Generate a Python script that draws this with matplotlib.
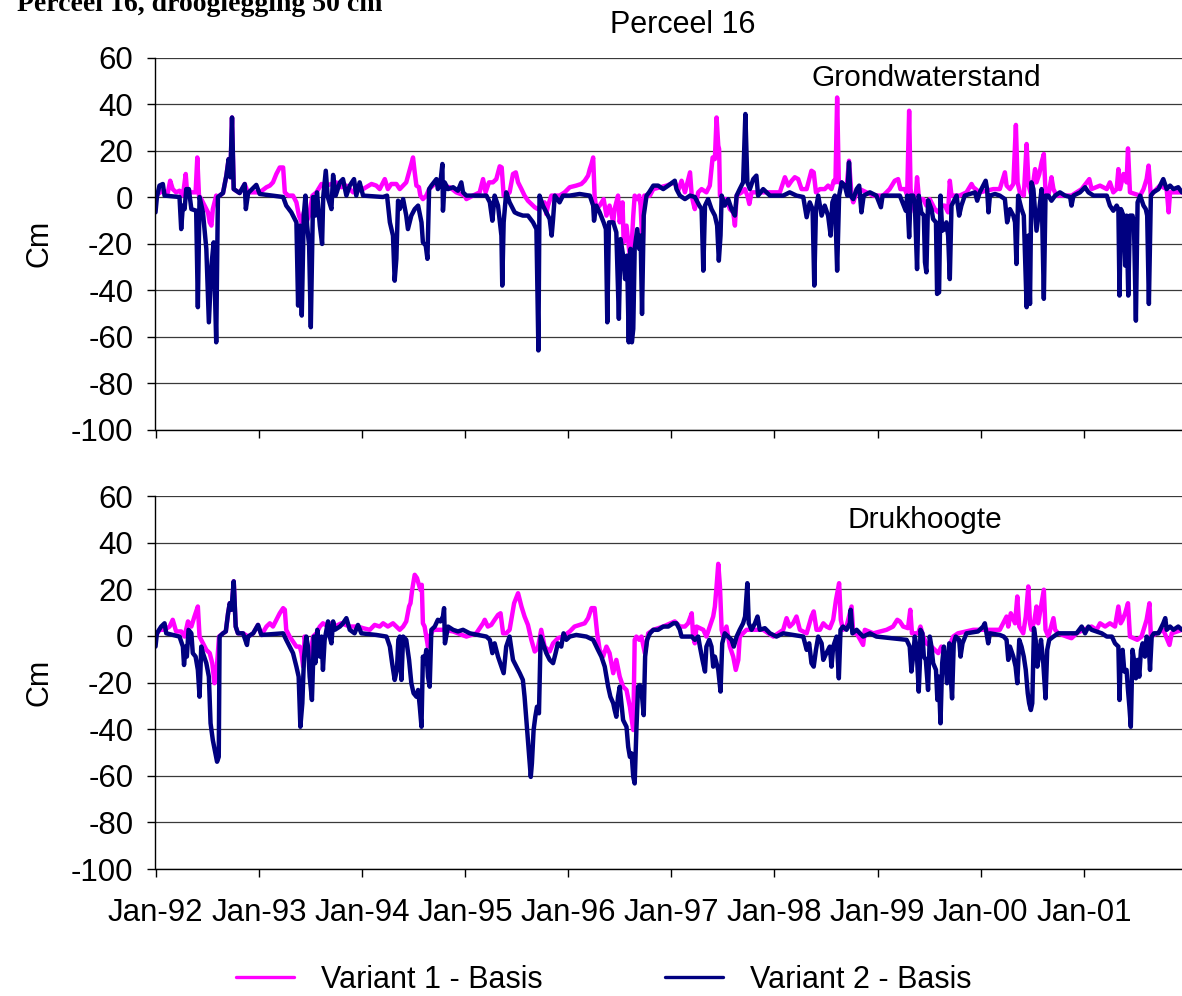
import numpy as np
import matplotlib
matplotlib.use("Agg")
import matplotlib.pyplot as plt
import matplotlib.dates as mdates

plt.rcParams['font.family'] = ['Liberation Sans', 'DejaVu Sans']
plt.rcParams['axes.unicode_minus'] = False

# ---- Grondwaterstand (groundwater level differences, cm); time in decimal years
gw_v1_t = [1992.000, 1992.071, 1992.120, 1992.142, 1992.168, 1992.200, 1992.233, 1992.265, 1992.291, 1992.304,
           1992.346, 1992.388, 1992.404, 1992.420, 1992.443, 1992.475, 1992.508, 1992.524, 1992.540, 1992.556,
           1992.588, 1992.605, 1992.653, 1992.685, 1992.708, 1992.724, 1992.740, 1992.757, 1992.815, 1992.863,
           1992.896, 1992.912, 1993.009, 1993.073, 1993.106, 1993.138, 1993.170, 1993.203, 1993.235, 1993.251,
           1993.284, 1993.332, 1993.364, 1993.390, 1993.413, 1993.436, 1993.461, 1993.487, 1993.520, 1993.558,
           1993.607, 1993.655, 1993.704, 1993.752, 1993.801, 1993.849, 1993.914, 1994.011, 1994.092, 1994.140,
           1994.173, 1994.221, 1994.253, 1994.286, 1994.334, 1994.367, 1994.399, 1994.431, 1994.457, 1994.480,
           1994.496, 1994.512, 1994.528, 1994.554, 1994.567, 1994.593, 1994.625, 1994.651, 1994.722, 1994.771,
           1994.852, 1994.916, 1994.997, 1995.013, 1995.078, 1995.143, 1995.175, 1995.201, 1995.233, 1995.272,
           1995.304, 1995.337, 1995.356, 1995.375, 1995.401, 1995.434, 1995.466, 1995.492, 1995.514, 1995.547,
           1995.579, 1995.611, 1995.644, 1995.676, 1995.708, 1995.741, 1995.773, 1995.789, 1995.805, 1995.838,
           1995.919, 1995.967, 1996.016, 1996.080, 1996.129, 1996.161, 1996.193, 1996.210, 1996.226, 1996.242,
           1996.258, 1996.274, 1996.307, 1996.345, 1996.371, 1996.403, 1996.436, 1996.452, 1996.484, 1996.500,
           1996.526, 1996.539, 1996.565, 1996.591, 1996.607, 1996.630, 1996.646, 1996.669, 1996.688, 1996.701,
           1996.720, 1996.737, 1996.791, 1996.824, 1996.953, 1997.034, 1997.066, 1997.099, 1997.131, 1997.180,
           1997.196, 1997.212, 1997.228, 1997.260, 1997.293, 1997.341, 1997.373, 1997.399, 1997.422, 1997.438,
           1997.454, 1997.464, 1997.470, 1997.503, 1997.535, 1997.567, 1997.600, 1997.616, 1997.632, 1997.681,
           1997.713, 1997.736, 1997.755, 1997.778, 1997.858, 1997.955, 1998.052, 1998.101, 1998.133, 1998.166,
           1998.198, 1998.230, 1998.263, 1998.311, 1998.360, 1998.382, 1998.402, 1998.440, 1998.489, 1998.521,
           1998.554, 1998.576, 1998.592, 1998.609, 1998.625, 1998.651, 1998.699, 1998.722, 1998.748, 1998.764,
           1998.796, 1998.828, 1998.958, 1999.055, 1999.119, 1999.168, 1999.200, 1999.223, 1999.265, 1999.288,
           1999.307, 1999.320, 1999.362, 1999.384, 1999.404, 1999.443, 1999.475, 1999.507, 1999.556, 1999.588,
           1999.620, 1999.653, 1999.685, 1999.701, 1999.717, 1999.798, 1999.863, 1999.911, 1999.928, 1999.992,
           2000.122, 2000.186, 2000.235, 2000.251, 2000.283, 2000.316, 2000.341, 2000.358, 2000.380, 2000.419,
           2000.445, 2000.464, 2000.493, 2000.526, 2000.542, 2000.568, 2000.590, 2000.613, 2000.629, 2000.655,
           2000.687, 2000.704, 2000.736, 2000.881, 2000.978, 2001.053, 2001.075, 2001.156, 2001.221, 2001.253,
           2001.286, 2001.318, 2001.334, 2001.350, 2001.383, 2001.415, 2001.428, 2001.447, 2001.544, 2001.577,
           2001.609, 2001.628, 2001.648, 2001.673, 2001.738, 2001.803, 2001.822, 2001.835, 2001.952]
gw_v1 = [0.6, 2.7, 2.0, 7.0, 3.4, 2.0, 2.7, 0.6, 9.9, 3.4,
         2.0, 2.0, 17.0, 0.6, -0.9, -3.7, -6.6, -10.9, -12.3, -5.2,
         0.6, 0.0, 1.7, 9.2, 16.3, 8.5, 34.2, 3.4, 1.7, 5.6,
         1.7, 2.0, 2.0, 4.2, 4.9, 6.3, 9.9, 12.7, 12.7, 2.0,
         0.6, 0.6, -2.3, -8.0, -10.9, -6.6, -10.9, -8.0, 0.6, 2.0,
         5.6, 4.9, 5.6, 6.3, 4.2, 4.9, 2.0, 3.4, 5.6, 4.9,
         3.4, 7.7, 3.4, 5.6, 5.6, 3.4, 4.9, 6.3, 10.6, 14.2,
         17.0, 10.6, 4.9, 4.2, 0.6, -0.9, 0.6, 3.4, 6.3, 4.9,
         4.2, 2.0, 0.6, -0.9, 0.6, 2.0, 7.7, 2.0, 6.3, 6.3,
         7.7, 13.2, 12.7, 0.6, 0.6, 2.0, 9.9, 10.6, 6.3, 3.4,
         0.6, -1.6, -3.0, -4.4, -5.2, -3.7, -2.3, -7.3, -3.7, 0.6,
         0.6, 2.0, 4.2, 4.9, 5.6, 7.0, 9.2, 12.0, 14.2, 17.0,
         0.6, -5.2, -3.7, -0.9, -8.0, -3.7, -10.9, -5.2, 0.6, -10.9,
         -2.3, -19.5, -12.3, -22.3, -28.0, -8.0, 0.6, -0.9, 0.6, -3.7,
         -22.3, 0.6, 0.6, 3.4, 4.9, 6.3, 2.7, 7.0, 2.0, 10.6,
         0.6, -2.3, -5.2, 2.0, 3.4, 2.0, 4.9, 17.0, 16.3, 34.2,
         22.1, 20.6, 0.6, -0.9, -0.9, -5.2, -6.6, -12.3, 0.6, 2.0,
         3.4, 0.6, -3.0, 2.0, 2.0, 2.0, 2.0, 8.5, 4.9, 7.0,
         8.5, 7.7, 3.4, 3.4, 11.3, 10.6, 2.0, 3.4, 3.4, 4.9,
         3.4, 7.0, 6.3, 42.8, 6.3, 6.3, 3.4, 15.6, 0.6, -2.3,
         2.0, 3.4, 0.6, 0.6, 3.4, 7.0, 7.7, 3.4, 3.4, 0.6,
         37.1, 3.4, -6.6, 8.5, -0.9, -0.9, -3.7, -0.9, -5.2, -6.6,
         -3.7, -3.7, -6.6, 7.0, 0.6, 0.6, 2.0, 5.6, 4.2, 2.0,
         3.4, 3.4, 10.6, 4.9, 3.4, 5.6, 31.0, 6.3, 2.0, 0.6,
         22.8, 4.9, 0.6, 12.0, 6.3, 9.9, 14.9, 18.5, 2.0, 0.6,
         8.5, 3.4, 0.6, 0.6, 3.4, 7.7, 3.4, 4.9, 3.4, 6.3,
         2.0, 3.4, 12.0, 3.4, 9.9, 6.3, 20.9, 2.0, 0.6, 3.4,
         7.7, 13.5, 0.6, 2.0, 4.9, 3.4, -6.6, 2.0, 2.0]

gw_v2_t = [1992.000, 1992.013, 1992.039, 1992.071, 1992.087, 1992.233, 1992.249, 1992.265, 1992.281, 1992.297,
           1992.323, 1992.346, 1992.394, 1992.411, 1992.427, 1992.459, 1992.491, 1992.517, 1992.540, 1992.563,
           1992.588, 1992.605, 1992.653, 1992.685, 1992.708, 1992.724, 1992.740, 1992.757, 1992.815, 1992.863,
           1992.873, 1992.896, 1992.976, 1993.009, 1993.235, 1993.267, 1993.316, 1993.364, 1993.381, 1993.397,
           1993.416, 1993.436, 1993.452, 1993.468, 1993.487, 1993.503, 1993.526, 1993.549, 1993.565, 1993.591,
           1993.613, 1993.626, 1993.649, 1993.668, 1993.704, 1993.720, 1993.746, 1993.785, 1993.817, 1993.849,
           1993.882, 1993.924, 1993.946, 1993.979, 1994.011, 1994.205, 1994.244, 1994.270, 1994.302, 1994.318,
           1994.334, 1994.350, 1994.367, 1994.399, 1994.431, 1994.447, 1994.480, 1994.512, 1994.544, 1994.577,
           1994.593, 1994.619, 1994.635, 1994.651, 1994.674, 1994.722, 1994.738, 1994.761, 1994.780, 1994.787,
           1994.803, 1994.836, 1994.884, 1994.932, 1994.965, 1994.981, 1995.013, 1995.207, 1995.240, 1995.265,
           1995.288, 1995.320, 1995.353, 1995.362, 1995.375, 1995.401, 1995.434, 1995.482, 1995.514, 1995.563,
           1995.611, 1995.660, 1995.692, 1995.712, 1995.724, 1995.757, 1995.789, 1995.822, 1995.841, 1995.854,
           1995.870, 1995.919, 1995.951, 1996.016, 1996.113, 1996.210, 1996.242, 1996.252, 1996.274, 1996.307,
           1996.345, 1996.365, 1996.381, 1996.397, 1996.436, 1996.468, 1996.491, 1996.507, 1996.533, 1996.552,
           1996.572, 1996.588, 1996.604, 1996.617, 1996.630, 1996.646, 1996.669, 1996.688, 1996.701, 1996.717,
           1996.733, 1996.759, 1996.785, 1996.824, 1996.872, 1996.921, 1996.969, 1997.034, 1997.050, 1997.083,
           1997.131, 1997.180, 1997.228, 1997.270, 1997.293, 1997.309, 1997.325, 1997.357, 1997.390, 1997.422,
           1997.445, 1997.461, 1997.477, 1997.487, 1997.519, 1997.551, 1997.584, 1997.616, 1997.632, 1997.664,
           1997.697, 1997.719, 1997.736, 1997.761, 1997.794, 1997.826, 1997.842, 1997.891, 1997.955, 1998.085,
           1998.149, 1998.214, 1998.279, 1998.311, 1998.343, 1998.369, 1998.385, 1998.402, 1998.424, 1998.457,
           1998.489, 1998.521, 1998.544, 1998.563, 1998.586, 1998.609, 1998.628, 1998.651, 1998.683, 1998.706,
           1998.722, 1998.738, 1998.764, 1998.796, 1998.822, 1998.845, 1998.867, 1998.925, 1998.990, 1999.032,
           1999.048, 1999.152, 1999.216, 1999.275, 1999.288, 1999.307, 1999.320, 1999.346, 1999.362, 1999.384,
           1999.401, 1999.426, 1999.449, 1999.459, 1999.475, 1999.491, 1999.523, 1999.540, 1999.566, 1999.578,
           1999.598, 1999.611, 1999.627, 1999.653, 1999.669, 1999.685, 1999.701, 1999.717, 1999.734, 1999.766,
           1999.792, 1999.814, 1999.847, 1999.895, 1999.944, 1999.966, 1999.992, 2000.025, 2000.050, 2000.063,
           2000.076, 2000.089, 2000.138, 2000.186, 2000.235, 2000.257, 2000.283, 2000.316, 2000.332, 2000.348,
           2000.364, 2000.396, 2000.419, 2000.445, 2000.461, 2000.477, 2000.493, 2000.510, 2000.526, 2000.542,
           2000.568, 2000.590, 2000.613, 2000.629, 2000.655, 2000.687, 2000.720, 2000.768, 2000.817, 2000.865,
           2000.881, 2000.898, 2000.962, 2001.011, 2001.043, 2001.092, 2001.221, 2001.253, 2001.286, 2001.318,
           2001.334, 2001.344, 2001.360, 2001.383, 2001.399, 2001.415, 2001.431, 2001.447, 2001.470, 2001.486,
           2001.505, 2001.521, 2001.544, 2001.577, 2001.599, 2001.615, 2001.631, 2001.648, 2001.673, 2001.722,
           2001.770, 2001.803, 2001.835, 2001.868, 2001.916, 2001.952]
gw_v2 = [-6.6, 0.0, 4.9, 5.6, 0.6, 0.0, -13.8, -3.7, -5.2, 3.4,
         3.4, -5.2, -5.9, -47.4, 0.0, -6.6, -22.3, -53.9, -29.5, -19.5,
         -62.5, 0.0, 1.7, 9.2, 16.3, 8.5, 34.2, 3.4, 1.7, 5.6,
         -5.2, 1.7, 5.2, 1.3, 0.0, -3.7, -6.6, -10.9, -46.7, -12.3,
         -51.0, -8.0, 0.6, -12.3, -20.9, -56.0, 0.0, -8.0, 2.0, -12.3,
         -20.2, 0.0, 11.3, 0.0, -5.2, 9.5, 0.6, 6.3, 7.7, 0.6,
         4.9, 7.7, 0.6, 6.3, 0.6, 0.0, 0.6, -10.9, -16.6, -36.0,
         -26.6, -1.6, -5.2, -0.9, -8.0, -13.8, -8.0, -5.2, -3.7, -10.9,
         -19.5, -20.9, -26.6, 3.4, 4.9, 7.7, 3.4, 6.3, 14.2, -5.9,
         6.3, 3.4, 4.2, 2.7, 6.3, 2.0, 0.6, 0.6, -2.3, -10.2,
         0.6, -3.7, -16.6, -38.1, -10.9, 2.0, -2.3, -6.6, -7.3, -8.0,
         -8.0, -10.9, -13.8, -66.0, 0.6, -3.7, -6.6, -9.5, -16.6, -9.5,
         0.6, -2.3, 0.6, 0.6, 1.3, 0.6, -3.7, -10.2, -3.7, -6.6,
         -10.9, -13.8, -53.9, -10.9, -10.9, -15.2, -52.4, -18.1, -25.2, -35.3,
         -25.2, -62.5, -22.3, -62.5, -56.7, -22.3, -13.8, -22.3, -16.6, -50.3,
         -8.0, 0.6, 2.0, 4.9, 4.9, 3.4, 4.9, 7.0, 3.4, 0.6,
         -0.9, 0.6, 0.0, -3.7, -5.2, -31.7, -3.7, -0.9, -5.2, -8.0,
         -12.3, -27.4, -16.6, 0.6, -3.7, -0.9, -5.2, -8.0, 0.6, 3.4,
         6.3, 35.7, 6.3, 3.4, 7.7, 9.2, 0.6, 3.4, 0.6, 0.6,
         2.0, 0.6, 0.0, -8.7, -2.3, -5.2, -38.1, -5.2, 0.6, -8.0,
         -3.7, -8.0, -16.6, -2.3, 0.6, -31.7, 0.6, 6.3, 4.9, 0.6,
         14.9, 0.6, -0.9, 3.4, 4.9, -6.6, 0.6, 2.0, 0.6, -4.4,
         0.6, 0.6, 0.6, -5.9, 0.6, -17.3, 0.6, 0.6, -2.3, -31.0,
         0.6, -6.6, -8.0, -28.0, -32.4, -1.4, -5.2, -9.5, -10.9, -41.7,
         -41.0, 0.6, -14.5, -13.8, -10.9, -16.6, -35.3, -3.7, -2.3, 0.6,
         -8.0, -3.7, 0.6, 1.3, 2.0, -1.6, 2.0, 4.9, 7.0, 3.4,
         -6.6, 0.6, 1.3, 0.6, -0.9, -10.9, -5.2, -8.0, -10.9, -28.8,
         0.6, -5.2, -8.0, -47.4, -16.6, -46.0, 6.3, 3.4, -6.6, -14.5,
         -5.2, 3.4, -43.8, 0.6, 0.6, -1.6, 0.6, 2.0, 0.6, 0.0,
         -3.7, 0.6, 2.0, 4.2, 2.0, 0.6, 0.6, -3.7, -5.9, -3.7,
         -5.2, -42.4, -5.2, -8.0, -29.5, -8.0, -42.4, -8.0, -8.0, -10.9,
         -53.2, -2.3, 0.6, -3.7, -5.2, -8.0, -46.0, 0.6, 2.0, 3.4,
         7.7, 3.4, 4.9, 3.4, 4.2, 2.0]

# ---- Drukhoogte (pressure head differences, cm)
dh_v1_t = [1992.000, 1992.039, 1992.087, 1992.136, 1992.168, 1992.200, 1992.249, 1992.281, 1992.314, 1992.346,
           1992.378, 1992.411, 1992.427, 1992.459, 1992.491, 1992.524, 1992.550, 1992.572, 1992.588, 1992.614,
           1992.653, 1992.679, 1992.702, 1992.718, 1992.734, 1992.757, 1992.776, 1992.799, 1992.847, 1992.896,
           1992.944, 1992.993, 1993.025, 1993.073, 1993.106, 1993.138, 1993.170, 1993.203, 1993.235, 1993.251,
           1993.267, 1993.300, 1993.364, 1993.397, 1993.413, 1993.429, 1993.445, 1993.461, 1993.494, 1993.526,
           1993.558, 1993.591, 1993.623, 1993.672, 1993.704, 1993.736, 1993.801, 1993.882, 1993.962, 1994.011,
           1994.076, 1994.124, 1994.173, 1994.205, 1994.253, 1994.302, 1994.367, 1994.399, 1994.431, 1994.457,
           1994.470, 1994.489, 1994.512, 1994.535, 1994.554, 1994.567, 1994.580, 1994.593, 1994.609, 1994.625,
           1994.641, 1994.658, 1994.690, 1994.787, 1994.884, 1995.013, 1995.110, 1995.175, 1995.191, 1995.223,
           1995.256, 1995.288, 1995.320, 1995.346, 1995.369, 1995.401, 1995.434, 1995.476, 1995.514, 1995.547,
           1995.579, 1995.611, 1995.644, 1995.676, 1995.708, 1995.741, 1995.773, 1995.822, 1995.854, 1995.902,
           1995.951, 1996.016, 1996.064, 1996.113, 1996.161, 1996.193, 1996.226, 1996.258, 1996.281, 1996.307,
           1996.339, 1996.371, 1996.403, 1996.436, 1996.468, 1996.500, 1996.533, 1996.565, 1996.597, 1996.630,
           1996.646, 1996.662, 1996.688, 1996.711, 1996.743, 1996.775, 1996.824, 1996.921, 1997.034, 1997.082,
           1997.131, 1997.163, 1997.196, 1997.212, 1997.228, 1997.244, 1997.276, 1997.309, 1997.341, 1997.373,
           1997.406, 1997.422, 1997.438, 1997.454, 1997.470, 1997.487, 1997.503, 1997.535, 1997.567, 1997.600,
           1997.626, 1997.648, 1997.664, 1997.729, 1997.826, 1997.891, 1997.988, 1998.085, 1998.117, 1998.149,
           1998.182, 1998.214, 1998.246, 1998.311, 1998.360, 1998.382, 1998.408, 1998.440, 1998.473, 1998.505,
           1998.537, 1998.570, 1998.596, 1998.628, 1998.644, 1998.667, 1998.699, 1998.748, 1998.764, 1998.796,
           1998.861, 1998.877, 1998.958, 1999.087, 1999.152, 1999.191, 1999.216, 1999.249, 1999.296, 1999.318,
           1999.334, 1999.394, 1999.417, 1999.443, 1999.475, 1999.523, 1999.556, 1999.588, 1999.620, 1999.653,
           1999.685, 1999.708, 1999.734, 1999.782, 1999.928, 2000.186, 2000.251, 2000.267, 2000.293, 2000.332,
           2000.354, 2000.374, 2000.412, 2000.438, 2000.461, 2000.477, 2000.493, 2000.519, 2000.542, 2000.558,
           2000.590, 2000.613, 2000.629, 2000.655, 2000.704, 2000.720, 2000.752, 2000.833, 2000.881, 2000.930,
           2000.994, 2001.075, 2001.124, 2001.156, 2001.205, 2001.253, 2001.302, 2001.334, 2001.357, 2001.376,
           2001.399, 2001.428, 2001.447, 2001.518, 2001.560, 2001.609, 2001.635, 2001.648, 2001.706, 2001.770,
           2001.829, 2001.851, 2001.952]
dh_v1 = [-0.3, 2.6, 2.6, 4.0, 6.9, 1.9, 1.9, -0.3, 6.2, 4.0,
         8.3, 12.6, -0.3, -3.2, -6.0, -7.4, -11.7, -20.3, -17.5, -0.3,
         1.1, 1.9, 9.7, 14.0, 11.2, 23.4, 4.0, 1.1, 1.1, -0.3,
         1.1, 4.7, 0.4, 4.0, 5.4, 4.0, 6.9, 9.7, 11.9, 11.2,
         2.6, -0.3, -4.6, -4.6, -7.4, -13.2, -0.3, -3.2, -10.3, -0.3,
         1.1, 4.0, 5.4, 4.0, 5.4, 4.0, 5.4, 4.0, 4.0, 3.3,
         2.6, 4.7, 4.0, 5.4, 4.0, 5.4, 2.6, 4.0, 6.2, 12.6,
         14.0, 19.8, 26.2, 24.8, 21.9, 19.8, 21.9, 5.4, 4.0, -0.3,
         -4.6, -0.3, 2.6, 2.6, 1.9, -0.3, 1.1, 5.4, 6.9, 4.0,
         4.7, 6.9, 9.0, 9.7, 1.1, 1.1, 2.6, 14.0, 18.3, 12.6,
         8.3, 4.7, -1.7, -6.7, -5.3, 2.6, -4.6, -6.7, -3.2, -1.0,
         -0.3, 1.9, 4.0, 4.7, 5.4, 7.6, 11.9, 11.9, 1.1, -6.0,
         -8.9, -4.6, -7.4, -16.0, -10.3, -17.5, -21.8, -23.2, -30.4, -40.4,
         -1.7, -0.3, -1.7, -0.3, -7.4, 1.1, 2.6, 4.0, 6.2, 4.0,
         4.0, 5.4, 9.7, -0.3, -3.2, 4.0, 3.3, 2.6, -0.3, 4.0,
         8.3, 12.6, 21.2, 30.9, 21.2, 2.6, -0.3, 4.0, -4.6, -8.9,
         -14.6, -10.3, -0.3, 2.6, 2.6, 2.6, -0.3, 2.6, 7.6, 4.0,
         5.4, 8.3, 2.6, 1.1, 8.3, 10.5, 2.6, 2.6, 5.4, 4.0,
         3.3, 6.9, 15.5, 22.6, 6.9, 2.6, 4.0, 12.6, 1.1, 1.1,
         -3.9, 2.6, 1.1, 2.6, 4.0, 6.9, 6.2, 4.0, 3.3, 11.2,
         1.1, 1.1, 4.0, -0.3, -3.2, -4.6, -6.0, -7.4, -4.6, -7.4,
         -11.7, -3.2, -0.3, 1.1, 2.6, 2.6, 8.3, 4.0, 9.7, 5.4,
         16.9, 4.0, 1.1, 8.3, 21.2, 5.4, 2.6, 6.2, 12.6, 5.4,
         14.0, 19.8, 2.6, -0.3, 7.6, 2.6, 1.1, -0.3, -1.0, 1.1,
         2.6, 4.0, 2.6, 5.4, 4.0, 5.4, 4.0, 12.6, 5.4, 6.9,
         9.7, 14.0, -0.3, -1.7, -0.3, 6.9, 14.0, -0.3, 1.1, 2.6,
         -3.9, 1.1, 2.6]

dh_v2_t = [1992.000, 1992.013, 1992.055, 1992.087, 1992.103, 1992.233, 1992.265, 1992.275, 1992.291, 1992.304,
           1992.320, 1992.346, 1992.362, 1992.388, 1992.411, 1992.427, 1992.443, 1992.459, 1992.491, 1992.517,
           1992.533, 1992.556, 1992.579, 1992.595, 1992.611, 1992.621, 1992.653, 1992.679, 1992.702, 1992.718,
           1992.734, 1992.757, 1992.776, 1992.799, 1992.847, 1992.886, 1992.896, 1992.944, 1992.993, 1993.025,
           1993.235, 1993.267, 1993.300, 1993.332, 1993.364, 1993.387, 1993.403, 1993.423, 1993.439, 1993.461,
           1993.478, 1993.494, 1993.516, 1993.533, 1993.549, 1993.568, 1993.591, 1993.607, 1993.623, 1993.639,
           1993.672, 1993.688, 1993.704, 1993.720, 1993.736, 1993.785, 1993.817, 1993.849, 1993.882, 1993.930,
           1993.962, 1993.995, 1994.140, 1994.237, 1994.270, 1994.292, 1994.318, 1994.341, 1994.354, 1994.367,
           1994.383, 1994.399, 1994.431, 1994.457, 1994.480, 1994.502, 1994.528, 1994.544, 1994.561, 1994.577,
           1994.593, 1994.609, 1994.625, 1994.641, 1994.658, 1994.674, 1994.706, 1994.738, 1994.761, 1994.787,
           1994.797, 1994.806, 1994.836, 1994.884, 1994.932, 1994.981, 1995.046, 1995.207, 1995.240, 1995.265,
           1995.288, 1995.320, 1995.353, 1995.375, 1995.401, 1995.434, 1995.466, 1995.498, 1995.531, 1995.563,
           1995.579, 1995.602, 1995.621, 1995.637, 1995.650, 1995.666, 1995.683, 1995.699, 1995.718, 1995.734,
           1995.757, 1995.789, 1995.822, 1995.854, 1995.880, 1995.902, 1995.935, 1995.957, 1995.983, 1996.016,
           1996.080, 1996.177, 1996.242, 1996.290, 1996.323, 1996.355, 1996.387, 1996.410, 1996.436, 1996.452,
           1996.468, 1996.484, 1996.500, 1996.517, 1996.533, 1996.565, 1996.581, 1996.597, 1996.614, 1996.630,
           1996.646, 1996.662, 1996.678, 1996.694, 1996.711, 1996.733, 1996.746, 1996.766, 1996.791, 1996.824,
           1996.872, 1996.921, 1996.969, 1997.018, 1997.050, 1997.082, 1997.099, 1997.196, 1997.228, 1997.260,
           1997.276, 1997.302, 1997.325, 1997.341, 1997.367, 1997.390, 1997.406, 1997.422, 1997.454, 1997.477,
           1997.493, 1997.519, 1997.551, 1997.584, 1997.606, 1997.632, 1997.664, 1997.697, 1997.716, 1997.736,
           1997.752, 1997.778, 1997.810, 1997.836, 1997.858, 1997.907, 1997.955, 1998.020, 1998.085, 1998.279,
           1998.311, 1998.337, 1998.360, 1998.382, 1998.402, 1998.424, 1998.457, 1998.473, 1998.505, 1998.537,
           1998.554, 1998.570, 1998.602, 1998.625, 1998.641, 1998.667, 1998.699, 1998.731, 1998.741, 1998.757,
           1998.796, 1998.861, 1998.925, 1998.990, 1999.281, 1999.313, 1999.329, 1999.346, 1999.362, 1999.378,
           1999.401, 1999.411, 1999.417, 1999.436, 1999.449, 1999.468, 1999.491, 1999.507, 1999.523, 1999.540,
           1999.566, 1999.582, 1999.595, 1999.611, 1999.627, 1999.643, 1999.659, 1999.675, 1999.695, 1999.708,
           1999.724, 1999.740, 1999.759, 1999.792, 1999.805, 1999.824, 1999.863, 1999.976, 2000.025, 2000.041,
           2000.057, 2000.073, 2000.089, 2000.186, 2000.225, 2000.251, 2000.267, 2000.283, 2000.316, 2000.338,
           2000.354, 2000.374, 2000.396, 2000.419, 2000.438, 2000.455, 2000.471, 2000.487, 2000.500, 2000.516,
           2000.532, 2000.548, 2000.568, 2000.584, 2000.607, 2000.629, 2000.645, 2000.665, 2000.704, 2000.752,
           2000.930, 2000.978, 2001.011, 2001.043, 2001.075, 2001.172, 2001.221, 2001.270, 2001.302, 2001.334,
           2001.344, 2001.357, 2001.376, 2001.392, 2001.415, 2001.428, 2001.441, 2001.454, 2001.470, 2001.489,
           2001.505, 2001.521, 2001.538, 2001.554, 2001.570, 2001.593, 2001.609, 2001.628, 2001.641, 2001.657,
           2001.680, 2001.722, 2001.770, 2001.790, 2001.803, 2001.835, 2001.868, 2001.916, 2001.952]
dh_v2 = [-4.6, 1.1, 4.0, 5.4, 1.1, -0.3, -4.6, -12.5, -4.6, -8.9,
         2.6, 1.1, -7.4, -8.9, -14.6, -26.1, -4.6, -7.4, -11.7, -17.5,
         -37.5, -44.7, -50.4, -54.0, -51.9, -0.3, 1.1, 1.9, 9.7, 14.0,
         11.2, 23.4, 4.0, 1.1, 1.1, -3.9, -0.3, 1.1, 4.7, 0.4,
         1.1, -1.7, -4.6, -7.4, -13.2, -17.5, -39.0, -28.9, -8.9, -0.3,
         -4.6, -17.5, -27.5, -0.3, -11.7, 2.6, -8.9, -0.3, -14.6, -1.7,
         6.2, -0.3, -3.2, 6.2, 2.6, 4.0, 5.4, 7.6, 2.6, 1.1,
         4.7, 1.1, 0.4, -0.3, -4.6, -11.7, -18.9, -14.6, -1.7, -0.3,
         -18.9, -0.3, -1.7, -10.3, -20.3, -24.6, -26.1, -23.2, -30.4, -39.0,
         -8.9, -11.7, -6.0, -17.5, -21.8, 2.6, 4.0, 6.9, 6.2, 8.3,
         11.9, -3.2, 4.0, 2.6, 1.9, 2.6, 1.1, -0.3, -1.7, -7.4,
         -3.2, -8.9, -13.2, -16.0, -4.6, -0.3, -10.3, -13.2, -16.0, -18.9,
         -26.1, -40.4, -51.9, -60.5, -54.7, -40.4, -34.7, -30.4, -33.2, -0.3,
         -3.2, -7.4, -10.3, -11.7, -7.4, -3.2, -4.6, 1.1, -1.7, -0.3,
         0.4, -0.3, -1.7, -6.0, -8.9, -13.2, -21.8, -26.1, -28.9, -31.8,
         -34.7, -26.1, -21.8, -28.9, -36.1, -39.0, -47.6, -51.9, -50.4, -60.5,
         -63.3, -40.4, -21.8, -21.1, -23.2, -34.0, -8.9, -1.7, 1.1, 2.6,
         2.6, 4.0, 4.0, 5.4, 5.4, 2.6, -0.3, -0.3, -1.7, -0.3,
         -4.6, -10.3, -15.3, -4.6, -1.7, -4.6, -13.2, -8.9, -14.6, -23.9,
         -3.2, 1.1, -0.3, -1.7, -4.6, -0.3, 2.6, 5.4, 8.3, 22.6,
         5.4, 2.6, 5.4, 8.3, 2.6, 3.3, 1.1, -0.3, 1.1, -0.3,
         -6.0, -3.2, -11.7, -13.2, -6.0, -0.3, -3.2, -10.3, -7.4, -4.6,
         -13.2, -4.6, -0.3, -18.2, 2.6, 4.0, 2.6, 5.4, 11.2, 1.1,
         2.6, -0.3, 1.1, -0.3, -1.7, -4.6, -15.3, -8.9, -0.3, -4.6,
         -23.9, -11.7, 2.6, 1.1, -8.9, -10.3, -23.2, -0.3, -4.6, -11.7,
         -14.6, -27.5, -17.5, -37.5, -11.7, -4.6, -11.7, -20.3, -3.2, -14.6,
         -26.8, -3.2, -0.3, -1.7, -8.9, -3.2, 1.1, 1.9, 4.0, 5.4,
         1.1, -3.2, 1.1, 0.4, -0.3, -1.7, -10.3, -4.6, -8.9, -13.2,
         -20.3, -1.7, -4.6, -8.9, -14.6, -24.6, -28.9, -31.8, -28.9, 3.3,
         -1.7, -13.2, -7.4, -1.7, -11.7, -26.8, -6.0, -1.7, -0.3, 1.1,
         1.1, 4.0, 1.1, 4.0, 2.6, 1.1, -0.3, -0.3, -3.2, -4.6,
         -27.5, -8.9, -6.0, -15.3, -14.6, -23.2, -30.4, -39.0, -6.0, -11.0,
         -18.2, -10.3, -17.5, -6.0, -3.2, -8.9, -0.3, -1.7, -14.6, -0.3,
         1.1, 1.1, 5.4, 7.6, 2.6, 4.0, 2.6, 4.0, 2.6]

series_labels = ['Variant 1 - Basis', 'Variant 2 - Basis']
series_colors = ['#FF00FF', '#000080']
year_ticks = list(range(1992, 2002))
y_ticks = list(range(-100, 61, 20))


def to_dates(years):
    """Decimal years -> datetime64 days (whole years land on 1 January)."""
    out = []
    for y in np.atleast_1d(np.asarray(years, dtype=float)):
        yi = int(np.floor(y))
        start = np.datetime64(f'{yi}-01-01')
        ndays = int((np.datetime64(f'{yi + 1}-01-01') - start).astype(int))
        out.append(start + np.timedelta64(int(round((y - yi) * ndays)), 'D'))
    return np.array(out, dtype='datetime64[D]')


W, H = 1182, 996
fig = plt.figure(figsize=(W / 100, H / 100), dpi=100)
left = 155.5 / W
width = (1187 - 155.5) / W
ax_top = fig.add_axes([left, 1 - 429.5 / H, width, 372 / H])
ax_bot = fig.add_axes([left, 1 - 869 / H, width, 373 / H])

panels = [
    (ax_top, (gw_v1_t, gw_v1), (gw_v2_t, gw_v2), 'Grondwaterstand', 0.636, 0.945),
    (ax_bot, (dh_v1_t, dh_v1), (dh_v2_t, dh_v2), 'Drukhoogte', 0.671, 0.936),
]

handles = []
for ax, s1, s2, name, tx, ty in panels:
    for (t, v), lab, col in zip((s1, s2), series_labels, series_colors):
        ln, = ax.plot(to_dates(t), v, color=col, lw=3.2, label=lab,
                      solid_joinstyle='round', solid_capstyle='round')
        if ax is ax_top:
            handles.append(ln)
    ax.set_ylim(-100, 60)
    ax.set_yticks(y_ticks)
    ax.set_xlim(np.datetime64('1992-01-01'), np.datetime64('2002-01-01'))
    ax.set_xticks(to_dates(year_ticks))
    ax.xaxis.set_major_formatter(mdates.DateFormatter('%b-%y'))
    ax.yaxis.grid(True, color='#3a3a3a', lw=0.9)
    ax.set_axisbelow(True)
    for sp in ('top', 'right'):
        ax.spines[sp].set_visible(False)
    for sp in ('left', 'bottom'):
        ax.spines[sp].set_linewidth(1.0)
        ax.spines[sp].set_color('black')
    ax.tick_params(axis='both', direction='out', length=6, width=1.0,
                   labelsize=22.5, pad=10, colors='black')
    ax.tick_params(axis='x', pad=15)
    ax.set_ylabel('Cm', fontsize=22)
    ax.yaxis.set_label_coords(-0.098, 0.5)
    ax.text(tx, ty, name, transform=ax.transAxes, fontsize=21.5,
            ha='left', va='center')

ax_top.tick_params(axis='x', labelbottom=False)

fig.text(683 / W, 1 - 25 / H, 'Perceel 16', fontsize=22, ha='center', va='center')
fig.text(17 / W, 1 - 11 / H, 'Perceel 16, drooglegging 50 cm', fontsize=20,
         fontweight='bold', family=['Liberation Serif', 'DejaVu Serif'],
         ha='left', va='baseline')

leg = fig.legend(handles=handles, labels=series_labels, loc='center left',
                 bbox_to_anchor=(208 / W, 1 - 980 / H), ncol=2, frameon=False,
                 fontsize=22, handlelength=1.9, handletextpad=0.9,
                 columnspacing=4.0, borderpad=0.4)
for hl in leg.get_lines():
    hl.set_linewidth(2.4)

fig.savefig('out.png', dpi=100)
